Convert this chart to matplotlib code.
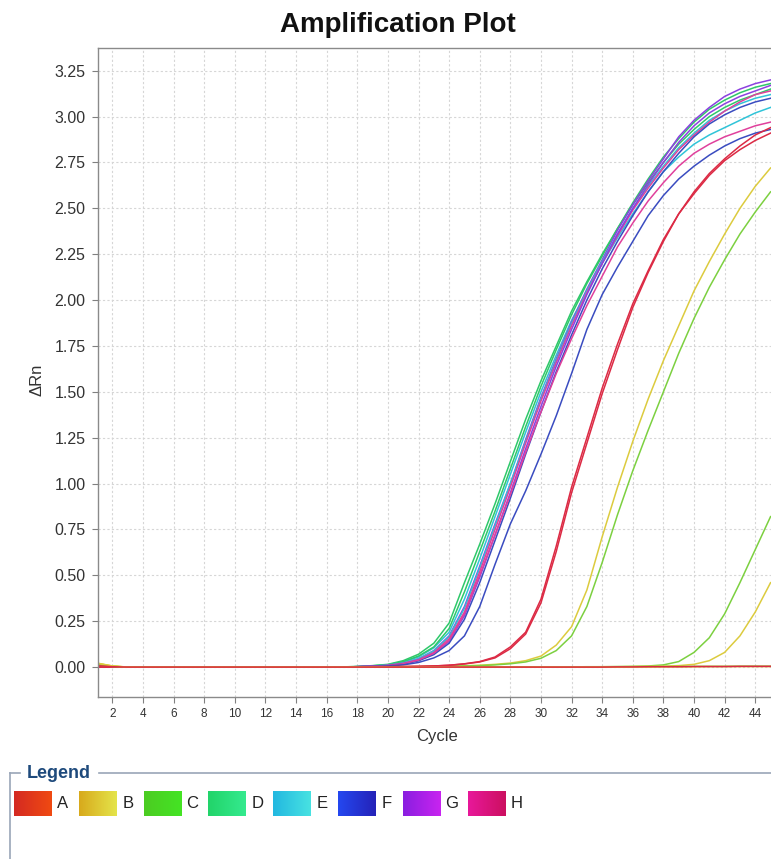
import matplotlib
matplotlib.use("Agg")
import matplotlib.pyplot as plt
import numpy as np

plt.rcParams['font.family'] = ['Liberation Sans', 'DejaVu Sans']

cycles = list(range(1, 46))

# ΔRn per cycle (1..45)
D1 = [0, 0, 0, 0, 0, 0, 0, 0, 0, 0, 0, 0, 0, 0, 0,
      0, 0.001, 0.003, 0.008, 0.015, 0.035, 0.07, 0.13, 0.24, 0.46, 0.67, 0.89, 1.12, 1.35, 1.56,
      1.75, 1.94, 2.1, 2.25, 2.39, 2.52, 2.64, 2.75, 2.85, 2.93, 3.0, 3.05, 3.09, 3.12, 3.15]
D2 = [0, 0, 0, 0, 0, 0, 0, 0, 0, 0, 0, 0, 0, 0, 0,
      0, 0.001, 0.003, 0.007, 0.013, 0.03, 0.06, 0.11, 0.21, 0.41, 0.63, 0.85, 1.08, 1.31, 1.53,
      1.73, 1.92, 2.09, 2.24, 2.39, 2.53, 2.66, 2.78, 2.88, 2.97, 3.04, 3.09, 3.13, 3.16, 3.18]
E1 = [0, 0, 0, 0, 0, 0, 0, 0, 0, 0, 0, 0, 0, 0, 0,
      0, 0.001, 0.002, 0.006, 0.012, 0.028, 0.055, 0.105, 0.19, 0.37, 0.59, 0.82, 1.05, 1.28, 1.5,
      1.7, 1.89, 2.05, 2.2, 2.34, 2.47, 2.59, 2.7, 2.78, 2.85, 2.9, 2.94, 2.98, 3.02, 3.05]
E2 = [0, 0, 0, 0, 0, 0, 0, 0, 0, 0, 0, 0, 0, 0, 0,
      0, 0.001, 0.002, 0.005, 0.01, 0.022, 0.045, 0.088, 0.165, 0.32, 0.54, 0.77, 1.0, 1.23, 1.46,
      1.67, 1.87, 2.05, 2.21, 2.36, 2.5, 2.62, 2.73, 2.83, 2.91, 2.98, 3.03, 3.07, 3.1, 3.12]
G1 = [0, 0, 0, 0, 0, 0, 0, 0, 0, 0, 0, 0, 0, 0, 0,
      0, 0.001, 0.002, 0.005, 0.01, 0.022, 0.045, 0.09, 0.17, 0.33, 0.55, 0.78, 1.0, 1.24, 1.47,
      1.68, 1.88, 2.06, 2.22, 2.38, 2.52, 2.65, 2.77, 2.89, 2.98, 3.05, 3.11, 3.15, 3.18, 3.2]
G2 = [0, 0, 0, 0, 0, 0, 0, 0, 0, 0, 0, 0, 0, 0, 0,
      0, 0.001, 0.002, 0.004, 0.008, 0.018, 0.038, 0.075, 0.14, 0.28, 0.49, 0.72, 0.95, 1.19, 1.42,
      1.64, 1.84, 2.03, 2.2, 2.36, 2.5, 2.63, 2.75, 2.86, 2.95, 3.02, 3.07, 3.11, 3.14, 3.17]
H1 = [0, 0, 0, 0, 0, 0, 0, 0, 0, 0, 0, 0, 0, 0, 0,
      0, 0.001, 0.002, 0.004, 0.009, 0.02, 0.04, 0.08, 0.155, 0.3, 0.52, 0.75, 0.98, 1.22, 1.45,
      1.66, 1.86, 2.04, 2.2, 2.35, 2.49, 2.61, 2.72, 2.82, 2.9, 2.97, 3.03, 3.08, 3.12, 3.14]
H2 = [0, 0, 0, 0, 0, 0, 0, 0, 0, 0, 0, 0, 0, 0, 0,
      0, 0.001, 0.002, 0.004, 0.008, 0.018, 0.038, 0.075, 0.145, 0.29, 0.5, 0.72, 0.94, 1.17, 1.39,
      1.6, 1.79, 1.97, 2.13, 2.29, 2.42, 2.54, 2.64, 2.73, 2.8, 2.85, 2.89, 2.92, 2.95, 2.97]
F1 = [0, 0, 0, 0, 0, 0, 0, 0, 0, 0, 0, 0, 0, 0, 0,
      0, 0.001, 0.002, 0.004, 0.007, 0.016, 0.034, 0.068, 0.13, 0.26, 0.46, 0.69, 0.92, 1.16, 1.39,
      1.61, 1.81, 2.0, 2.17, 2.32, 2.46, 2.59, 2.7, 2.8, 2.89, 2.96, 3.01, 3.05, 3.08, 3.1]
F2 = [0, 0, 0, 0, 0, 0, 0, 0, 0, 0, 0, 0, 0, 0, 0,
      0, 0.001, 0.002, 0.003, 0.006, 0.012, 0.025, 0.05, 0.09, 0.17, 0.33, 0.56, 0.78, 0.96, 1.16,
      1.37, 1.6, 1.84, 2.03, 2.18, 2.32, 2.46, 2.57, 2.66, 2.73, 2.79, 2.84, 2.88, 2.91, 2.93]
A1 = [0, 0, 0, 0, 0, 0, 0, 0, 0, 0, 0, 0, 0, 0, 0,
      0, 0, 0, 0.001, 0.002, 0.003, 0.004, 0.006, 0.01, 0.018, 0.03, 0.055, 0.11, 0.19, 0.37,
      0.66, 0.98, 1.25, 1.52, 1.76, 1.98, 2.16, 2.33, 2.47, 2.58, 2.68, 2.76, 2.82, 2.87, 2.91]
A2 = [0, 0, 0, 0, 0, 0, 0, 0, 0, 0, 0, 0, 0, 0, 0,
      0, 0, 0, 0.001, 0.002, 0.003, 0.004, 0.006, 0.01, 0.017, 0.028, 0.05, 0.1, 0.18, 0.35,
      0.63, 0.95, 1.22, 1.49, 1.73, 1.96, 2.15, 2.32, 2.47, 2.59, 2.69, 2.77, 2.84, 2.9, 2.94]
B1 = [0.02, 0.005, 0, 0, 0, 0, 0, 0, 0, 0, 0, 0, 0, 0, 0,
      0, 0, 0, 0, 0.001, 0.002, 0.003, 0.004, 0.005, 0.007, 0.01, 0.015, 0.022, 0.035, 0.06,
      0.12, 0.22, 0.42, 0.71, 0.98, 1.23, 1.46, 1.67, 1.86, 2.05, 2.21, 2.36, 2.5, 2.62, 2.72]
C1 = [0.015, 0.004, 0, 0, 0, 0, 0, 0, 0, 0, 0, 0, 0, 0, 0,
      0, 0, 0, 0, 0.001, 0.001, 0.002, 0.003, 0.004, 0.006, 0.008, 0.012, 0.018, 0.028, 0.048,
      0.09, 0.17, 0.33, 0.57, 0.83, 1.07, 1.29, 1.5, 1.71, 1.9, 2.07, 2.22, 2.36, 2.48, 2.59]
C2 = [0.01, 0.003, 0, 0, 0, 0, 0, 0, 0, 0, 0, 0, 0, 0, 0,
      0, 0, 0, 0, 0, 0, 0, 0, 0, 0, 0, 0, 0, 0, 0,
      0.001, 0.001, 0.002, 0.002, 0.003, 0.004, 0.006, 0.012, 0.03, 0.08, 0.16, 0.29, 0.46, 0.64, 0.82]
B2 = [0.02, 0.006, 0, 0, 0, 0, 0, 0, 0, 0, 0, 0, 0, 0, 0,
      0, 0, 0, 0, 0, 0, 0, 0, 0, 0, 0, 0, 0, 0, 0,
      0, 0.001, 0.001, 0.002, 0.002, 0.003, 0.004, 0.005, 0.008, 0.015, 0.035, 0.08, 0.17, 0.3, 0.46]
C3 = [0.012, 0.003, 0, 0, 0, 0, 0, 0, 0, 0, 0, 0, 0, 0, 0,
      0, 0, 0, 0, 0, 0, 0, 0, 0, 0, 0, 0, 0, 0, 0,
      0, 0, 0, 0, 0.001, 0.002, 0.002, 0.003, 0.003, 0.004, 0.004, 0.004, 0.005, 0.005, 0.005]
B3 = [0.022, 0.006, 0, 0, 0, 0, 0, 0, 0, 0, 0, 0, 0, 0, 0,
      0, 0, 0, 0, 0, 0, 0, 0, 0, 0, 0, 0, 0, 0, 0,
      0, 0, 0, 0, 0, 0.001, 0.001, 0.002, 0.002, 0.002, 0.003, 0.003, 0.003, 0.003, 0.003]
A3 = [0.008, 0.002, 0, 0, 0, 0, 0, 0, 0, 0, 0, 0, 0, 0, 0,
      0, 0, 0, 0, 0, 0, 0, 0, 0, 0, 0, 0, 0, 0, 0,
      0, 0, 0, 0, 0.001, 0.001, 0.002, 0.002, 0.002, 0.003, 0.003, 0.003, 0.004, 0.004, 0.004]

line_colors = {'A': '#dc2a44', 'B': '#dccb3e', 'C': '#7cd040', 'D': '#2ec86a',
               'E': '#30c4d8', 'F': '#3a4cc0', 'G': '#8c40e0', 'H': '#e0409c'}

# drawing order: early group, later samples, baseline wells last
curves = [('D', D1), ('E', E1), ('D', D2), ('G', G1), ('E', E2), ('H', H1),
          ('G', G2), ('F', F1), ('H', H2), ('F', F2),
          ('B', B1), ('C', C1), ('C', C2), ('B', B2),
          ('A', A1), ('A', A2), ('C', C3), ('B', B3), ('A', A3)]

legend_labels = ['A', 'B', 'C', 'D', 'E', 'F', 'G', 'H']
legend_grad = [('#d42a22', '#f04a12'), ('#d8aa1c', '#e4e44a'), ('#4ccc22', '#44e424'),
               ('#22d46a', '#34ea8e'), ('#22b8e0', '#48e2e2'), ('#2448f0', '#2422b8'),
               ('#8a1ee0', '#c824f0'), ('#e8189a', '#cc1060')]

W, H = 771, 859
fig = plt.figure(figsize=(W / 100, H / 100), dpi=100)
ax = fig.add_axes([98 / W, 1 - 697 / H, 1 - 98 / W, (697 - 48) / H])

for key, vals in curves:
    ax.plot(cycles, vals, color=line_colors[key], lw=1.1)

ax.set_xlim(1.06, 45.03)
ax.set_ylim(-0.163, 3.374)
ax.set_xticks(range(2, 45, 2))
ax.set_yticks(np.arange(0, 3.26, 0.25))
ax.yaxis.set_major_formatter(matplotlib.ticker.FormatStrFormatter('%.2f'))
ax.grid(True, color='#d6d6d6', lw=0.8, linestyle=(0, (2, 2)))
ax.set_axisbelow(True)
ax.spines['right'].set_visible(False)
for s in ['top', 'left', 'bottom']:
    ax.spines[s].set_color('#8a8a8a')
    ax.spines[s].set_linewidth(1.0)
ax.tick_params(direction='out', length=4, width=0.8, color='#808080', labelcolor='#333333')
ax.tick_params(axis='x', labelsize=8.5, pad=4)
ax.tick_params(axis='y', labelsize=11.5, pad=5)

fig.text(398 / W, 1 - 25 / H, 'Amplification Plot', ha='center', va='center',
         fontsize=20, fontweight='bold', color='#111111')
fig.text(37 / W, 1 - 380 / H, 'ΔRn', rotation=90, ha='center', va='center',
         fontsize=12, color='#333333')
fig.text(437 / W, 1 - 737 / H, 'Cycle', ha='center', va='center',
         fontsize=12, color='#333333')

# legend panel, drawn in pixel coordinates
lax = fig.add_axes([0, 0, 1, 1])
lax.axis('off')
border = '#9aa6b8'
lax.plot([10, 20], [773, 773], color=border, lw=1.2)
lax.plot([99, 771], [773, 773], color=border, lw=1.2)
lax.plot([10, 10], [773, 859], color=border, lw=1.2)
lax.text(27, 773, 'Legend', ha='left', va='center', fontsize=13, fontweight='bold',
         color='#1e4a7c', family=['Liberation Sans Narrow', 'Liberation Sans'])

t = np.linspace(0, 1, 40)
for i, (lab, (c1, c2)) in enumerate(zip(legend_labels, legend_grad)):
    x0 = 14 + i * 64.8
    a = np.array(matplotlib.colors.to_rgb(c1))
    b = np.array(matplotlib.colors.to_rgb(c2))
    img = (a[None, :] * (1 - t[:, None]) + b[None, :] * t[:, None])[None, :, :]
    lax.imshow(img, extent=(x0, x0 + 38, 816, 791), aspect='auto', interpolation='bilinear')
    lax.text(x0 + 49, 804, lab, ha='center', va='center', fontsize=12, color='#222222')

lax.set_xlim(0, W)
lax.set_ylim(H, 0)

fig.savefig('out.png', dpi=100)
